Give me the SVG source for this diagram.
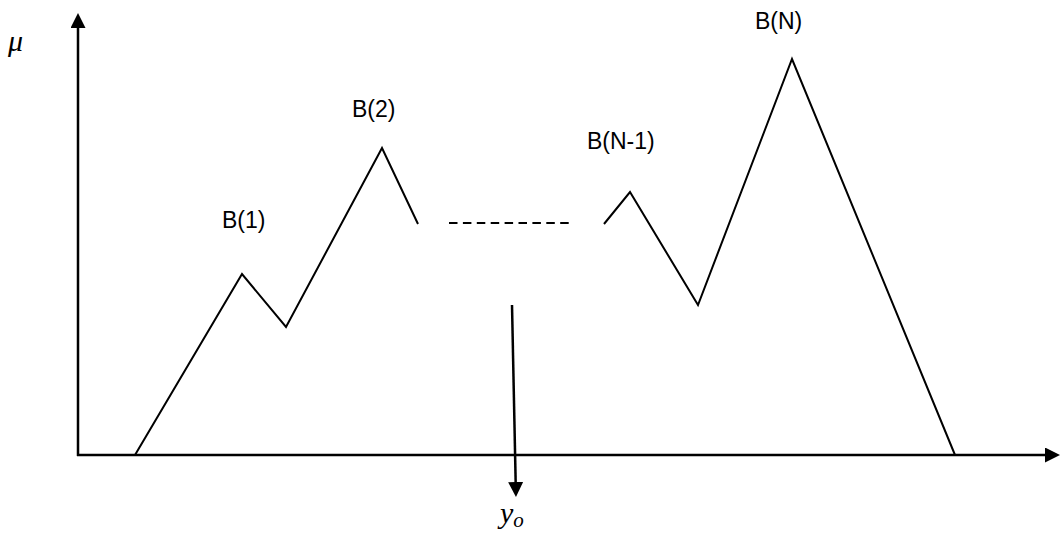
<svg xmlns="http://www.w3.org/2000/svg" width="1060" height="535" viewBox="0 0 1060 535">
  <style>
    .axis { stroke: #000; stroke-width: 2.5; fill: none; }
    .curve { stroke: #000; stroke-width: 2; fill: none; stroke-linejoin: miter; }
    .dash { stroke: #000; stroke-width: 2; stroke-dasharray: 8.5 5.4; fill: none; }
    .lbl { font-family: "Liberation Sans", Arial, sans-serif; font-size: 23px; fill: #000; }
    .math { font-family: "Liberation Serif", "Times New Roman", serif; font-style: italic; fill: #000; }
  </style>
  <defs>
    <marker id="arrow" markerUnits="userSpaceOnUse" markerWidth="16" markerHeight="16" refX="2" refY="7.5" orient="auto">
      <path d="M0,0 L15,7.5 L0,15 z" fill="#000"/>
    </marker>
  </defs>
  <rect width="1060" height="535" fill="#fff"/>
  <g id="connectors">
    <line id="y-axis" class="axis" x1="78" y1="456" x2="78" y2="26" marker-end="url(#arrow)"/>
    <line id="x-axis" class="axis" x1="77" y1="455" x2="1047" y2="455" marker-end="url(#arrow)"/>
    <line id="yo-arrow" class="axis" x1="512" y1="305" x2="515.7" y2="484" marker-end="url(#arrow)"/>
  </g>
  <g id="membership-left">
    <polyline class="curve" points="135,455 242,274 286,327 382,148 418,224"/>
  </g>
  <g id="ellipsis">
    <line class="dash" x1="449" y1="223" x2="569" y2="223"/>
  </g>
  <g id="membership-right">
    <polyline class="curve" points="604,224 630,192 698,305 792,59 955,455"/>
  </g>
  <g id="label-B1"><text class="lbl" x="222" y="228">B(1)</text></g>
  <g id="label-B2"><text class="lbl" x="352" y="117">B(2)</text></g>
  <g id="label-BN1"><text class="lbl" x="587" y="149">B(N-1)</text></g>
  <g id="label-BN"><text class="lbl" x="755" y="29">B(N)</text></g>
  <g id="label-mu"><text class="math" x="8" y="51" font-size="30">μ</text></g>
  <g id="label-yo"><text class="math" x="500" y="523" font-size="30">y<tspan font-size="21" dy="4">o</tspan></text></g>
</svg>
